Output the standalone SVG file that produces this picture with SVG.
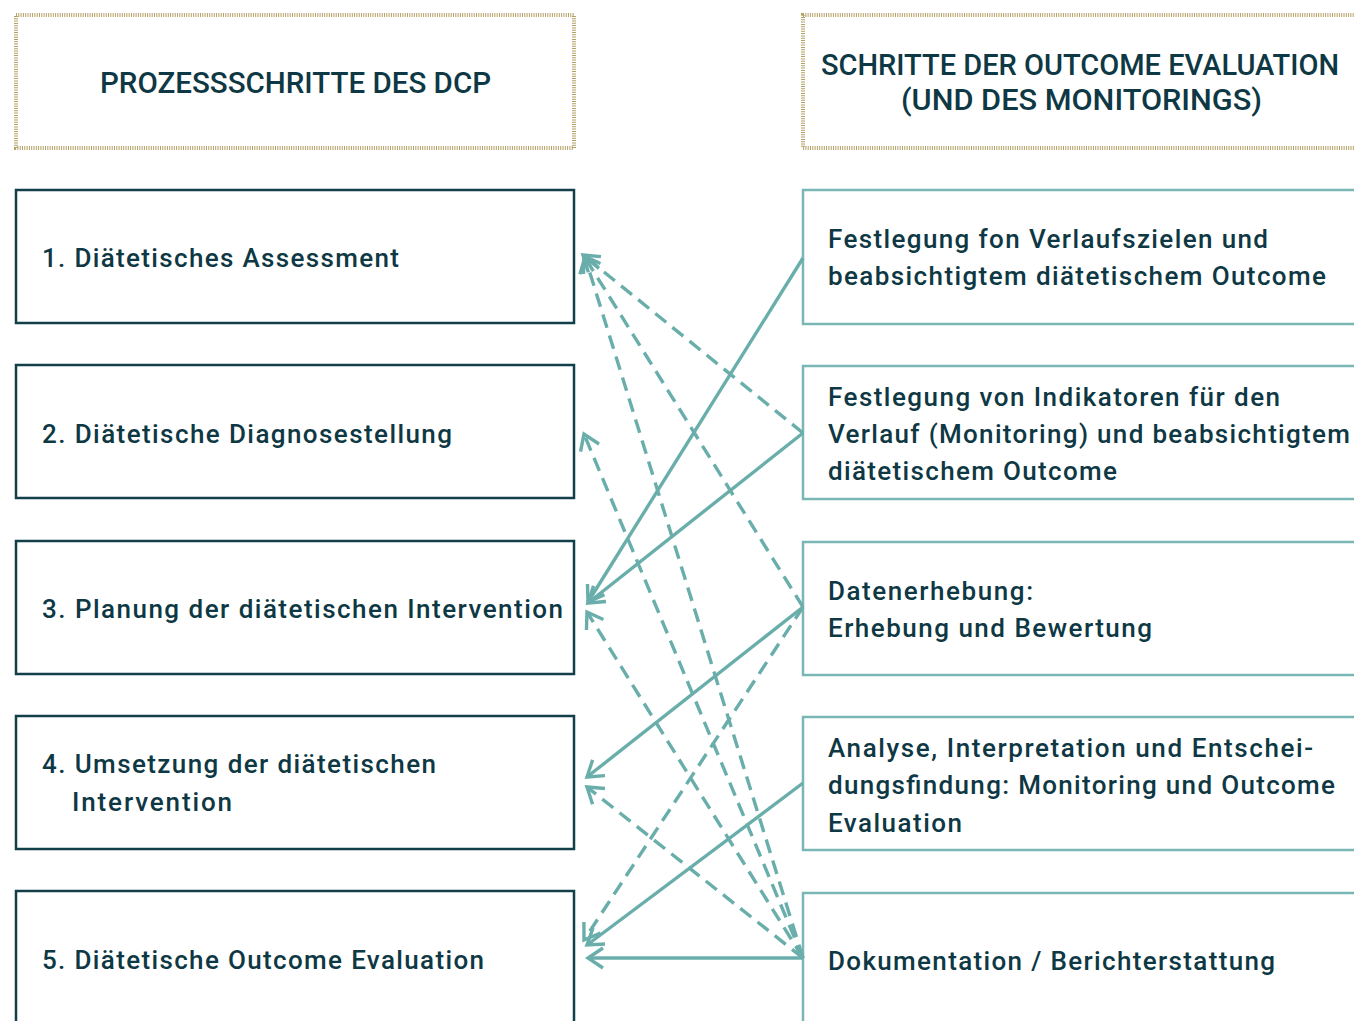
<svg xmlns="http://www.w3.org/2000/svg" width="1354" height="1021" viewBox="0 0 1354 1021">
<style>
  .hdr { fill: #ffffff; stroke: #b3a064; stroke-width: 4; stroke-dasharray: 1 1.3; }
  .lbox { fill: #ffffff; stroke: #123f4a; stroke-width: 2.5; }
  .rbox { fill: #ffffff; stroke: #7ab7b4; stroke-width: 2.5; }
  .ht { font-family: Roboto, "Liberation Sans", sans-serif; font-weight: 500; font-size: 30px; fill: #0e3844; }
  .t { font-family: Roboto, "Liberation Sans", sans-serif; font-weight: 500; font-size: 26px; fill: #0e3844; }
  .c { fill: none; stroke: #6aaeab; stroke-width: 3.4; }
  .d { stroke-dasharray: 14 8; }
</style>
<defs>
  <marker id="ah" markerUnits="userSpaceOnUse" markerWidth="40" markerHeight="40" viewBox="-20 -20 40 40" refX="0" refY="0" orient="auto" overflow="visible">
    <path d="M-15,-10 L0,0 L-15,10" fill="none" stroke="#6aaeab" stroke-width="3.4" stroke-dasharray="none"/>
  </marker>
</defs>
<rect width="1354" height="1021" fill="#ffffff"/>

<g id="header-left">
  <rect class="hdr" x="16" y="15" width="558" height="133"/>
  <text class="ht" x="100" y="93" textLength="391" lengthAdjust="spacingAndGlyphs">PROZESSSCHRITTE DES DCP</text>
</g>
<g id="header-right">
  <rect class="hdr" x="803" y="15" width="570" height="133"/>
  <text class="ht" x="821" y="75" textLength="518" lengthAdjust="spacingAndGlyphs">SCHRITTE DER OUTCOME EVALUATION</text>
  <text class="ht" x="901" y="110" textLength="361" lengthAdjust="spacingAndGlyphs">(UND DES MONITORINGS)</text>
</g>

<g id="dcp1">
  <rect class="lbox" x="16" y="190" width="558" height="133"/>
  <text class="t" x="42" y="267" textLength="357">1. Diätetisches Assessment</text>
</g>
<g id="dcp2">
  <rect class="lbox" x="16" y="365" width="558" height="133"/>
  <text class="t" x="42" y="443" textLength="410">2. Diätetische Diagnosestellung</text>
</g>
<g id="dcp3">
  <rect class="lbox" x="16" y="541" width="558" height="133"/>
  <text class="t" x="42" y="618" textLength="521">3. Planung der diätetischen Intervention</text>
</g>
<g id="dcp4">
  <rect class="lbox" x="16" y="716" width="558" height="133"/>
  <text class="t" x="42" y="773" textLength="394">4. Umsetzung der diätetischen</text>
  <text class="t" x="72" y="811" textLength="160">Intervention</text>
</g>
<g id="dcp5">
  <rect class="lbox" x="16" y="891" width="558" height="140"/>
  <text class="t" x="42" y="969" textLength="442">5. Diätetische Outcome Evaluation</text>
</g>

<g id="oe1">
  <rect class="rbox" x="803" y="190" width="570" height="134"/>
  <text class="t" x="828" y="248" textLength="440">Festlegung fon Verlaufszielen und</text>
  <text class="t" x="828" y="285" textLength="498">beabsichtigtem diätetischem Outcome</text>
</g>
<g id="oe2">
  <rect class="rbox" x="803" y="366" width="570" height="133"/>
  <text class="t" x="828" y="406" textLength="452">Festlegung von Indikatoren für den</text>
  <text class="t" x="828" y="443" textLength="522">Verlauf (Monitoring) und beabsichtigtem</text>
  <text class="t" x="828" y="480" textLength="289">diätetischem Outcome</text>
</g>
<g id="oe3">
  <rect class="rbox" x="803" y="542" width="570" height="133"/>
  <text class="t" x="828" y="600" textLength="205">Datenerhebung:</text>
  <text class="t" x="828" y="637" textLength="324">Erhebung und Bewertung</text>
</g>
<g id="oe4">
  <rect class="rbox" x="803" y="717" width="570" height="133"/>
  <text class="t" x="828" y="757" textLength="485">Analyse, Interpretation und Entschei-</text>
  <text class="t" x="828" y="794" textLength="507">dungsfindung: Monitoring und Outcome</text>
  <text class="t" x="828" y="832" textLength="134">Evaluation</text>
</g>
<g id="oe5">
  <rect class="rbox" x="803" y="893" width="570" height="140"/>
  <text class="t" x="828" y="970" textLength="447">Dokumentation / Berichterstattung</text>
</g>

<g id="connectors">
  <path class="c" d="M803,258 L588,602" marker-end="url(#ah)"/>
  <path class="c" d="M803,433 L588,603" marker-end="url(#ah)"/>
  <path class="c" d="M803,607 L587,777" marker-end="url(#ah)"/>
  <path class="c" d="M803,783 L587,945" marker-end="url(#ah)"/>
  <path class="c" d="M803,958 L588,958" marker-end="url(#ah)"/>
  <path class="c d" d="M803,433 L583,255" marker-end="url(#ah)"/>
  <path class="c d" d="M803,607 L584,256" marker-end="url(#ah)"/>
  <path class="c d" d="M803,958 L585,257" marker-end="url(#ah)"/>
  <path class="c d" d="M803,958 L584,434" marker-end="url(#ah)"/>
  <path class="c d" d="M803,958 L587,612" marker-end="url(#ah)"/>
  <path class="c d" d="M803,958 L587,787" marker-end="url(#ah)"/>
  <path class="c d" d="M803,607 L584,940" marker-end="url(#ah)"/>
</g>
</svg>
